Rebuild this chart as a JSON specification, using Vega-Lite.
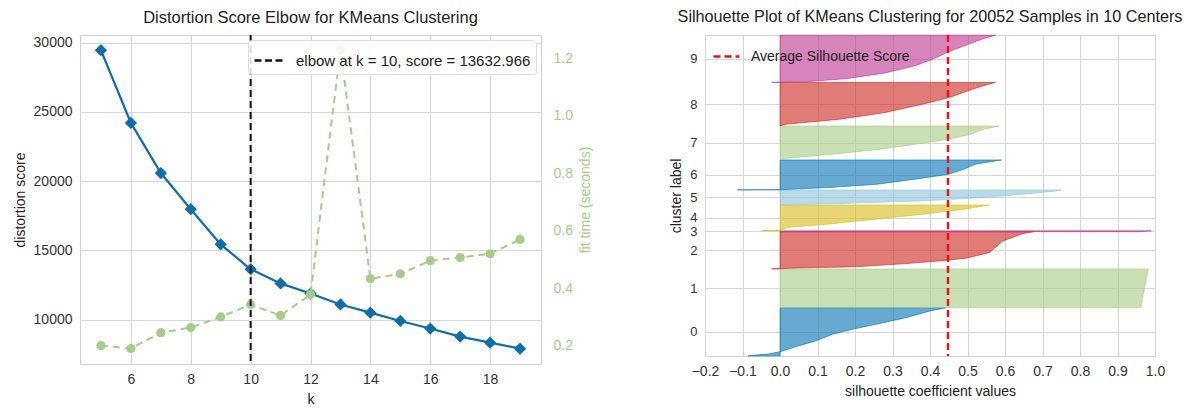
{
  "$schema": "https://vega.github.io/schema/vega-lite/v6.json",
  "background": "white",
  "padding": {"left": 12, "top": 8, "right": 0, "bottom": 0},
  "config": {
    "font": "Liberation Sans",
    "view": {"stroke": "#d0d0d0", "strokeWidth": 1},
    "axis": {
      "labelFont": "Liberation Sans", "labelFontSize": 14, "labelColor": "#333333",
      "titleFont": "Liberation Sans", "titleFontSize": 14, "titleFontWeight": "normal", "titleColor": "#222222",
      "domain": false, "ticks": false, "gridColor": "#d6d6d6", "gridWidth": 1, "labelPadding": 8, "titlePadding": 6,
      "labelOverlap": false, "labelFlush": false
    },
    "title": {"font": "Liberation Sans", "fontSize": 16.5, "fontWeight": "normal", "color": "#222222", "offset": 8},
    "legend": {"labelFont": "Liberation Sans", "title": null, "labelLimit": 400}
  },
  "datasets": {
    "elbow": [
      {"k": 5, "distortion": 29450, "fit_time": 0.2},
      {"k": 6, "distortion": 24200, "fit_time": 0.19},
      {"k": 7, "distortion": 20580, "fit_time": 0.245},
      {"k": 8, "distortion": 17970, "fit_time": 0.263},
      {"k": 9, "distortion": 15430, "fit_time": 0.30},
      {"k": 10, "distortion": 13632.966, "fit_time": 0.343},
      {"k": 11, "distortion": 12610, "fit_time": 0.305},
      {"k": 12, "distortion": 11880, "fit_time": 0.378},
      {"k": 13, "distortion": 11090, "fit_time": 1.231},
      {"k": 14, "distortion": 10500, "fit_time": 0.433},
      {"k": 15, "distortion": 9900, "fit_time": 0.45},
      {"k": 16, "distortion": 9350, "fit_time": 0.496},
      {"k": 17, "distortion": 8770, "fit_time": 0.507},
      {"k": 18, "distortion": 8330, "fit_time": 0.52},
      {"k": 19, "distortion": 7900, "fit_time": 0.57}
    ],
    "elbow_pt": [{"k": 10, "label": "elbow at k = 10, score = 13632.966"}],
    "avg": [{"score": 0.448, "label": "Average Silhouette Score"}],
    "sil": [
      {"cluster": 0, "s": 10, "v": -0.085}, {"cluster": 0, "s": 131, "v": -0.03}, {"cluster": 0, "s": 279, "v": 0.002},
      {"cluster": 0, "s": 636, "v": 0.05}, {"cluster": 0, "s": 947, "v": 0.095}, {"cluster": 0, "s": 1368, "v": 0.14},
      {"cluster": 0, "s": 1682, "v": 0.193}, {"cluster": 0, "s": 1994, "v": 0.256}, {"cluster": 0, "s": 2408, "v": 0.336},
      {"cluster": 0, "s": 2828, "v": 0.40}, {"cluster": 0, "s": 3034, "v": 0.443},
      {"cluster": 1, "s": 3044, "v": 0.962}, {"cluster": 1, "s": 4254, "v": 0.972}, {"cluster": 1, "s": 5464, "v": 0.982},
      {"cluster": 2, "s": 5474, "v": -0.022}, {"cluster": 2, "s": 5486, "v": 0.0}, {"cluster": 2, "s": 5518, "v": 0.024},
      {"cluster": 2, "s": 5600, "v": 0.2}, {"cluster": 2, "s": 5804, "v": 0.336}, {"cluster": 2, "s": 5974, "v": 0.425},
      {"cluster": 2, "s": 6144, "v": 0.496}, {"cluster": 2, "s": 6493, "v": 0.558}, {"cluster": 2, "s": 7226, "v": 0.594},
      {"cluster": 2, "s": 7682, "v": 0.647}, {"cluster": 2, "s": 7801, "v": 0.674},
      {"cluster": 3, "s": 7811, "v": 0.955}, {"cluster": 3, "s": 7861, "v": 0.99},
      {"cluster": 4, "s": 7871, "v": -0.047}, {"cluster": 4, "s": 7887, "v": -0.01}, {"cluster": 4, "s": 7919, "v": 0.0},
      {"cluster": 4, "s": 8076, "v": 0.02}, {"cluster": 4, "s": 8287, "v": 0.13}, {"cluster": 4, "s": 8597, "v": 0.256},
      {"cluster": 4, "s": 8907, "v": 0.38}, {"cluster": 4, "s": 9219, "v": 0.49}, {"cluster": 4, "s": 9485, "v": 0.558},
      {"cluster": 5, "s": 9495, "v": 0.0}, {"cluster": 5, "s": 9576, "v": 0.16}, {"cluster": 5, "s": 9744, "v": 0.38},
      {"cluster": 5, "s": 9949, "v": 0.54}, {"cluster": 5, "s": 10159, "v": 0.647}, {"cluster": 5, "s": 10365, "v": 0.736},
      {"cluster": 5, "s": 10427, "v": 0.75},
      {"cluster": 6, "s": 10437, "v": -0.114}, {"cluster": 6, "s": 10443, "v": -0.05}, {"cluster": 6, "s": 10448, "v": 0.0},
      {"cluster": 6, "s": 10581, "v": 0.13}, {"cluster": 6, "s": 10793, "v": 0.26}, {"cluster": 6, "s": 11106, "v": 0.36},
      {"cluster": 6, "s": 11417, "v": 0.45}, {"cluster": 6, "s": 11730, "v": 0.49}, {"cluster": 6, "s": 12043, "v": 0.52},
      {"cluster": 6, "s": 12311, "v": 0.59},
      {"cluster": 7, "s": 12321, "v": 0.0}, {"cluster": 7, "s": 12427, "v": 0.02}, {"cluster": 7, "s": 12678, "v": 0.14},
      {"cluster": 7, "s": 12991, "v": 0.27}, {"cluster": 7, "s": 13299, "v": 0.36}, {"cluster": 7, "s": 13618, "v": 0.45},
      {"cluster": 7, "s": 13928, "v": 0.51}, {"cluster": 7, "s": 14234, "v": 0.54}, {"cluster": 7, "s": 14447, "v": 0.585},
      {"cluster": 8, "s": 14457, "v": 0.0}, {"cluster": 8, "s": 14566, "v": 0.02}, {"cluster": 8, "s": 14876, "v": 0.16},
      {"cluster": 8, "s": 15290, "v": 0.28}, {"cluster": 8, "s": 15818, "v": 0.38}, {"cluster": 8, "s": 16226, "v": 0.45},
      {"cluster": 8, "s": 16648, "v": 0.50}, {"cluster": 8, "s": 16961, "v": 0.54}, {"cluster": 8, "s": 17179, "v": 0.574},
      {"cluster": 9, "s": 17189, "v": -0.022}, {"cluster": 9, "s": 17198, "v": 0.0}, {"cluster": 9, "s": 17248, "v": 0.08},
      {"cluster": 9, "s": 17426, "v": 0.18}, {"cluster": 9, "s": 17782, "v": 0.28}, {"cluster": 9, "s": 18226, "v": 0.36},
      {"cluster": 9, "s": 18671, "v": 0.41}, {"cluster": 9, "s": 19115, "v": 0.45}, {"cluster": 9, "s": 19559, "v": 0.5},
      {"cluster": 9, "s": 19915, "v": 0.54}, {"cluster": 9, "s": 20152, "v": 0.575}
    ]
  },
  "resolve": {"scale": {"color": "independent"}, "legend": {"color": "independent"}},
  "spacing": 76,
  "hconcat": [
    {
      "title": "Distortion Score Elbow for KMeans Clustering",
      "width": 461,
      "height": 329,
      "layer": [
        {
          "data": {"name": "elbow"},
          "mark": {"type": "line", "color": "#0f6ea8", "strokeWidth": 2.2,
                   "point": {"shape": "diamond", "size": 150, "filled": true, "color": "#0f6ea8"}},
          "encoding": {
            "x": {"field": "k", "type": "quantitative",
                  "scale": {"domain": [4.3, 19.7], "nice": false, "zero": false},
                  "axis": {"values": [6, 8, 10, 12, 14, 16, 18], "title": "k"}},
            "y": {"field": "distortion", "type": "quantitative",
                  "scale": {"domain": [6790, 30550], "nice": false, "zero": false},
                  "axis": {"values": [10000, 15000, 20000, 25000, 30000], "format": "d", "title": "distortion score"}}
          }
        },
        {
          "data": {"name": "elbow"},
          "mark": {"type": "line", "color": "#a6cc8a", "strokeWidth": 2, "strokeDash": [7, 5],
                   "point": {"shape": "circle", "size": 85, "filled": true, "color": "#a6cc8a"}},
          "encoding": {
            "x": {"field": "k", "type": "quantitative"},
            "y": {"field": "fit_time", "type": "quantitative",
                  "scale": {"domain": [0.136, 1.282], "nice": false, "zero": false},
                  "axis": {"orient": "right", "values": [0.2, 0.4, 0.6, 0.8, 1.0, 1.2], "format": ".1f",
                           "title": "fit time (seconds)", "titleAngle": 270, "titleBaseline": "top", "grid": false,
                           "labelPadding": 12, "labelColor": "#a6cc8a", "titleColor": "#a6cc8a"}}
          }
        },
        {
          "data": {"name": "elbow_pt"},
          "mark": {"type": "rule", "strokeDash": [7, 4], "strokeWidth": 2},
          "encoding": {
            "x": {"field": "k", "type": "quantitative"},
            "color": {"field": "label", "type": "nominal", "scale": {"range": ["#111111"]},
                      "legend": {"orient": "top-right", "offset": 5, "padding": 5, "fillColor": "rgba(255,255,255,0.85)",
                                 "strokeColor": "#dddddd", "cornerRadius": 3, "symbolType": "stroke",
                                 "symbolDash": [7, 3.5], "symbolStrokeWidth": 2.5, "symbolSize": 784,
                                 "labelOffset": 12, "labelFontSize": 15, "labelColor": "#222222"}}
          }
        }
      ],
      "resolve": {"scale": {"y": "independent"}}
    },
    {
      "title": {"text": "Silhouette Plot of KMeans Clustering for 20052 Samples in 10 Centers", "fontSize": 16.2},
      "width": 450,
      "height": 321,
      "layer": [
        {
          "data": {"name": "sil"},
          "mark": {"type": "area", "orient": "horizontal", "fillOpacity": 0.6, "strokeOpacity": 0.6, "strokeWidth": 1},
          "encoding": {
            "y": {"field": "s", "type": "quantitative",
                  "scale": {"domain": [0, 20162], "nice": false, "zero": false},
                  "axis": {"values": [1522, 4254, 6638, 7836, 8678, 9961, 11374, 13384, 15818, 18671],
                           "labelExpr": "'' + indexof([1522, 4254, 6638, 7836, 8678, 9961, 11374, 13384, 15818, 18671], datum.value)",
                           "labelFontSize": 13, "title": "cluster label"}},
            "x": {"field": "v", "type": "quantitative", "stack": null,
                  "scale": {"domain": [-0.2, 1.0], "nice": false, "zero": false},
                  "axis": {"values": [-0.2, -0.1, 0, 0.1, 0.2, 0.3, 0.4, 0.5, 0.6, 0.7, 0.8, 0.9, 1.0],
                           "format": ".1f", "title": "silhouette coefficient values"}},
            "x2": {"datum": 0},
            "fill": {"field": "cluster", "type": "nominal",
                     "scale": {"domain": [0, 1, 2, 3, 4, 5, 6, 7, 8, 9],
                               "range": ["#0072b2", "#a5cb82", "#cb231c", "#bc3291", "#d5bc17", "#8ac3da", "#0072b2", "#a5cb82", "#cb231c", "#bc3291"]},
                     "legend": null},
            "stroke": {"field": "cluster", "type": "nominal",
                       "scale": {"domain": [0, 1, 2, 3, 4, 5, 6, 7, 8, 9],
                                 "range": ["#0072b2", "#a5cb82", "#cb231c", "#bc3291", "#d5bc17", "#8ac3da", "#0072b2", "#a5cb82", "#cb231c", "#bc3291"]},
                       "legend": null}
          }
        },
        {
          "data": {"name": "avg"},
          "mark": {"type": "rule", "strokeDash": [7, 4], "strokeWidth": 2.5},
          "encoding": {
            "x": {"field": "score", "type": "quantitative",
                  "axis": {"values": [-0.2, -0.1, 0, 0.1, 0.2, 0.3, 0.4, 0.5, 0.6, 0.7, 0.8, 0.9, 1.0],
                           "format": ".1f", "title": "silhouette coefficient values"}},
            "color": {"field": "label", "type": "nominal", "scale": {"range": ["#e8141b"]},
                      "legend": {"orient": "top-left", "offset": 7, "padding": 0, "symbolType": "stroke",
                                 "symbolDash": [7, 4], "symbolStrokeWidth": 2.5, "symbolSize": 676,
                                 "labelOffset": 10, "labelFontSize": 14, "labelColor": "#222222"}}
          }
        }
      ]
    }
  ]
}
